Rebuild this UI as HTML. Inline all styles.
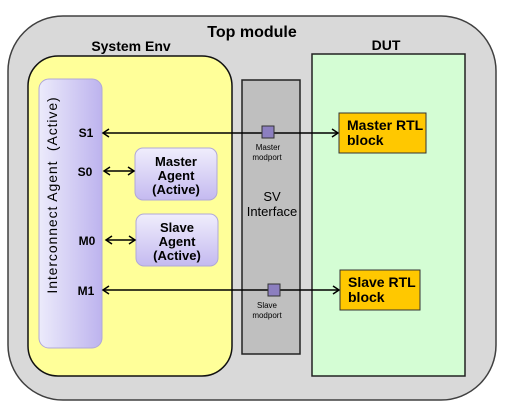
<!DOCTYPE html>
<html><head><style>body{margin:0;background:#fff}svg{display:block}</style></head><body>
<svg width="508" height="407" xmlns="http://www.w3.org/2000/svg" font-family="Liberation Sans, Arial, sans-serif">
<defs>
<linearGradient id="pg" x1="0" x2="1" y1="0" y2="0"><stop offset="0" stop-color="#ecebfb"/><stop offset="1" stop-color="#bdb3ee"/></linearGradient>
<linearGradient id="ag" x1="0" x2="0" y1="0" y2="1"><stop offset="0" stop-color="#f0eefc"/><stop offset="1" stop-color="#c4baf0"/></linearGradient>
<marker id="ah" markerWidth="10" markerHeight="10" refX="8" refY="5" orient="auto-start-reverse" markerUnits="userSpaceOnUse"><path d="M2,1 L8,5 L2,9" fill="none" stroke="#000" stroke-width="1.5"/></marker>
</defs>
<rect x="8" y="16" width="488" height="384" rx="55" fill="#d9d9d9" stroke="#404040" stroke-width="1.5"/>
<text x="252" y="37" font-size="16" font-weight="bold" text-anchor="middle">Top module</text>
<text x="131" y="51" font-size="14" font-weight="bold" text-anchor="middle">System Env</text>
<text x="386" y="50" font-size="14" font-weight="bold" text-anchor="middle">DUT</text>
<rect x="28" y="56" width="204" height="320" rx="30" fill="#ffff99" stroke="#111" stroke-width="1.5"/>
<rect x="312" y="54" width="153" height="322" fill="#d4fdd4" stroke="#222" stroke-width="1.5"/>
<rect x="242" y="80" width="58" height="274" fill="#bfbfbf" stroke="#222" stroke-width="1.5"/>
<rect x="39" y="79" width="63" height="269" rx="10" fill="url(#pg)" stroke="#b0a8d8" stroke-width="1"/>
<text transform="translate(57,195) rotate(-90)" font-size="14" letter-spacing="0.9" text-anchor="middle" xml:space="preserve">Interconnect Agent  (Active)</text>
<g font-size="12" font-weight="bold" text-anchor="middle">
<text x="86" y="137">S1</text><text x="85" y="176">S0</text><text x="87" y="245">M0</text><text x="86" y="295">M1</text>
</g>
<rect x="135" y="148" width="82" height="52" rx="8" fill="url(#ag)" stroke="#b0a8d8"/>
<rect x="136" y="214" width="82" height="52" rx="8" fill="url(#ag)" stroke="#b0a8d8"/>
<g font-size="13" font-weight="bold" text-anchor="middle">
<text x="176" y="166">Master</text><text x="176" y="180">Agent</text><text x="176" y="194">(Active)</text>
<text x="177" y="232">Slave</text><text x="177" y="246">Agent</text><text x="177" y="260">(Active)</text>
</g>
<g stroke="#000" stroke-width="1.5" fill="none">
<line x1="104" y1="171" x2="134" y2="171" marker-start="url(#ah)" marker-end="url(#ah)"/>
<line x1="106" y1="240" x2="135" y2="240" marker-start="url(#ah)" marker-end="url(#ah)"/>
<line x1="103" y1="133" x2="338" y2="133" marker-start="url(#ah)" marker-end="url(#ah)"/>
<line x1="103" y1="290" x2="339" y2="290" marker-start="url(#ah)" marker-end="url(#ah)"/>
</g>
<rect x="262" y="126" width="12" height="12" fill="#8c7fc0" stroke="#333"/>
<rect x="268" y="284" width="12" height="12" fill="#8c7fc0" stroke="#333"/>
<g font-size="8" text-anchor="middle">
<text x="268" y="150">Master</text><text x="267" y="160">modport</text>
<text x="267" y="308">Slave</text><text x="267" y="318">modport</text>
</g>
<text x="272" y="201" font-size="13" text-anchor="middle">SV</text>
<text x="272" y="216" font-size="13" text-anchor="middle">Interface</text>
<rect x="339" y="113" width="87" height="40" fill="#ffc800" stroke="#333"/>
<rect x="340" y="270" width="80" height="40" fill="#ffc800" stroke="#333"/>
<g font-size="14" font-weight="bold">
<text x="347" y="130">Master RTL</text><text x="347" y="145">block</text>
<text x="348" y="287">Slave RTL</text><text x="348" y="302">block</text>
</g>
</svg>
</body></html>
